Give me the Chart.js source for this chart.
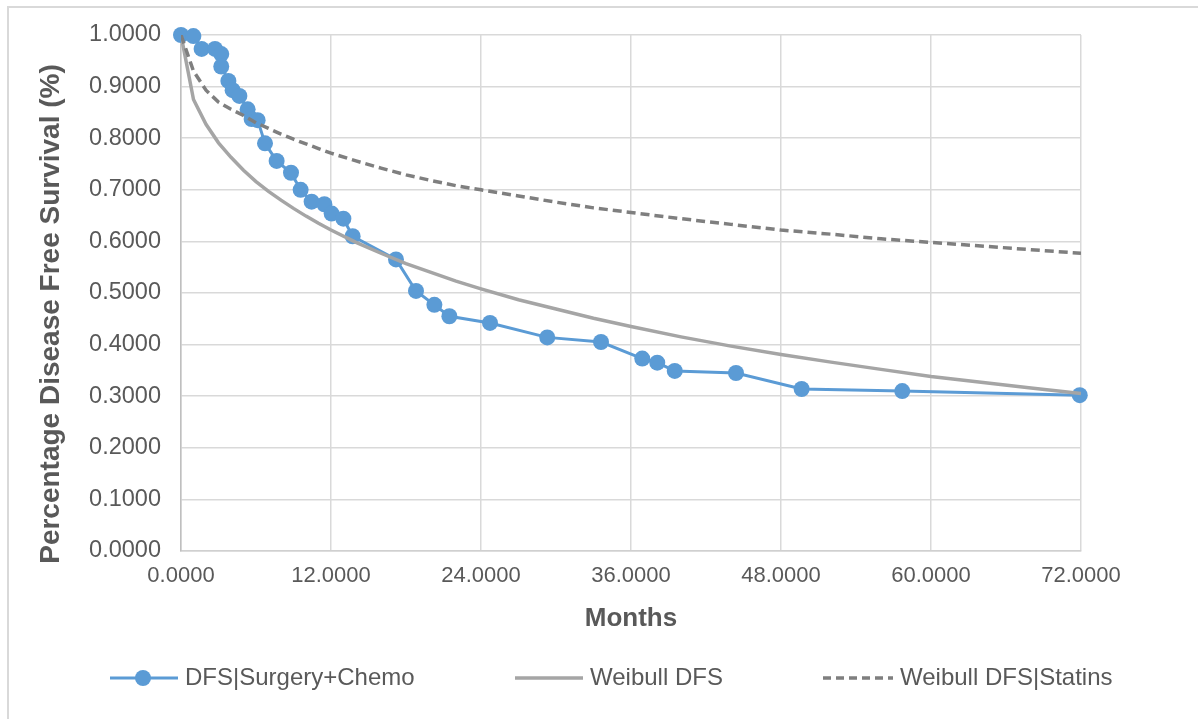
<!DOCTYPE html>
<html>
<head>
<meta charset="utf-8">
<title>DFS vs Weibull</title>
<script src="https://cdn.jsdelivr.net/npm/chart.js@4"></script>
<style>
  body { margin: 0; background: #fff; }
  #wrap { position: relative; width: 1198px; height: 719px; overflow: hidden; }
  #frame { position: absolute; left: 7px; top: 6px; width: 1300px; height: 800px;
           border-left: 2px solid #d9d9d9; border-top: 2px solid #d9d9d9; }
  #chart { position: absolute; left: 0; top: 0; }
</style>
</head>
<body>
<div id="wrap">
  <div id="frame"></div>
  <canvas id="chart" width="1198" height="719"></canvas>
</div>
<script>
// Kaplan-Meier points
const kmMonths = [0, 0.99, 1.65, 2.72, 3.22, 3.22, 3.79, 4.13, 4.67, 5.33, 5.65, 6.13, 6.72, 7.65, 8.8, 9.57,
  10.45, 11.47, 12.05, 12.99, 13.73, 17.2, 18.8, 20.27, 21.47, 24.72, 29.3, 33.6, 36.9, 38.1, 39.5, 44.4,
  49.65, 57.7, 71.9];
const kmSurvival = [1.0, 0.998, 0.973, 0.973, 0.963, 0.939, 0.911, 0.893, 0.882, 0.856, 0.837, 0.835, 0.790,
  0.756, 0.733, 0.700, 0.677, 0.672, 0.654, 0.644, 0.610, 0.565, 0.504, 0.477, 0.455, 0.442, 0.414, 0.405,
  0.373, 0.365, 0.349, 0.345, 0.314, 0.310, 0.302];

// fitted curves, values
const curveMonths = [0, 1, 2, 3, 4, 5, 6, 7, 8, 9, 10, 11, 12, 14, 16, 18, 20, 22, 24, 27, 30, 33, 36, 40,
  44, 48, 52, 56, 60, 64, 68, 72];
const weibullDfs = [1.000, 0.875, 0.827, 0.791, 0.763, 0.738, 0.716, 0.697, 0.680, 0.664, 0.649, 0.635, 0.622,
  0.598, 0.577, 0.557, 0.540, 0.523, 0.508, 0.487, 0.469, 0.451, 0.435, 0.415, 0.397, 0.381, 0.366, 0.352,
  0.338, 0.327, 0.316, 0.305];
const weibullStatins = [1.000, 0.930, 0.893, 0.870, 0.856, 0.844, 0.830, 0.819, 0.808, 0.798, 0.789, 0.780,
  0.771, 0.756, 0.742, 0.729, 0.718, 0.708, 0.700, 0.688, 0.676, 0.665, 0.656, 0.644, 0.633, 0.622, 0.614,
  0.605, 0.598, 0.591, 0.584, 0.577];

const seriesNames = ["DFS|Surgery+Chemo", "Weibull DFS", "Weibull DFS|Statins"];
const xTicks = [0, 12, 24, 36, 48, 60, 72];
const yTitle = "Percentage Disease Free Survival (%)";

const BLUE = "#5B9BD5", LIGHT = "#A5A5A5", DARK = "#7F7F7F", TEXT = "#595959";
const FONT = "'Liberation Sans', Arial, sans-serif";

function pts(xs, ys) {
  return xs.map((x, i) => ({ x: x, y: ys[i] }));
}

// legend and y title drawn by hand so they sit where the original has them
const extrasPlugin = {
  id: "extras",
  afterDraw(chart) {
    const ctx = chart.ctx;
    const y = 678;
    ctx.save();
    ctx.lineWidth = 3;

    ctx.strokeStyle = BLUE;
    ctx.beginPath(); ctx.moveTo(110, y); ctx.lineTo(178, y); ctx.stroke();
    ctx.fillStyle = BLUE;
    ctx.beginPath(); ctx.arc(143, y, 8, 0, Math.PI * 2); ctx.fill();

    ctx.lineWidth = 3.5;
    ctx.strokeStyle = LIGHT;
    ctx.beginPath(); ctx.moveTo(515, y); ctx.lineTo(583, y); ctx.stroke();

    ctx.strokeStyle = DARK;
    ctx.setLineDash([8, 5]);
    ctx.beginPath(); ctx.moveTo(823, y); ctx.lineTo(893, y); ctx.stroke();
    ctx.setLineDash([]);

    ctx.fillStyle = TEXT;
    ctx.font = "24px " + FONT;
    ctx.textBaseline = "middle";
    ctx.textAlign = "left";
    ctx.fillText(seriesNames[0], 185, y);
    ctx.fillText(seriesNames[1], 590, y);
    ctx.fillText(seriesNames[2], 900, y);

    ctx.translate(51, 314);
    ctx.rotate(-Math.PI / 2);
    ctx.textAlign = "center";
    ctx.font = "bold 28px " + FONT;
    ctx.fillText(yTitle, 0, 0);
    ctx.restore();
  }
};

new Chart(document.getElementById("chart"), {
  type: "scatter",
  data: {
    datasets: [
      {
        label: seriesNames[0],
        data: pts(kmMonths, kmSurvival),
        showLine: true,
        borderColor: BLUE,
        backgroundColor: BLUE,
        borderWidth: 3,
        pointRadius: 8,
        pointBorderWidth: 0,
        tension: 0,
        clip: false,
        order: 3
      },
      {
        label: seriesNames[1],
        data: pts(curveMonths, weibullDfs),
        showLine: true,
        borderColor: LIGHT,
        borderWidth: 3.5,
        pointRadius: 0,
        tension: 0,
        order: 2
      },
      {
        label: seriesNames[2],
        data: pts(curveMonths, weibullStatins),
        showLine: true,
        borderColor: DARK,
        borderWidth: 3.5,
        borderDash: [9, 5],
        pointRadius: 0,
        tension: 0,
        order: 1
      }
    ]
  },
  options: {
    responsive: false,
    devicePixelRatio: 1,
    animation: false,
    layout: { padding: { left: 0, right: 117, top: 35, bottom: 0 } },
    plugins: {
      legend: { display: false },
      tooltip: { enabled: false }
    },
    scales: {
      x: {
        type: "linear",
        min: 0,
        max: 72,
        afterBuildTicks: s => { s.ticks = xTicks.map(v => ({ value: v })); },
        afterFit: s => { s.height = 168; },
        grid: { color: "#d9d9d9", lineWidth: 1.5, drawTicks: false },
        border: { color: "#d0d0d0", width: 1.5 },
        ticks: {
          padding: 12,
          color: TEXT,
          font: { family: FONT, size: 22 },
          maxRotation: 0,
          callback: v => v.toFixed(4)
        },
        title: {
          display: true,
          text: "Months",
          color: TEXT,
          font: { family: FONT, size: 26, weight: "bold" },
          padding: { top: 0, bottom: 85 }
        }
      },
      y: {
        min: 0,
        max: 1,
        afterFit: s => { s.width = 181; },
        grid: { color: "#d9d9d9", lineWidth: 1.5, drawTicks: false },
        border: { color: "#bfbfbf", width: 1.5 },
        ticks: {
          stepSize: 0.1,
          padding: 20,
          color: TEXT,
          font: { family: FONT, size: 23.5 },
          callback: v => v.toFixed(4)
        },
        title: { display: false }
      }
    }
  },
  plugins: [extrasPlugin]
});
</script>
</body>
</html>
